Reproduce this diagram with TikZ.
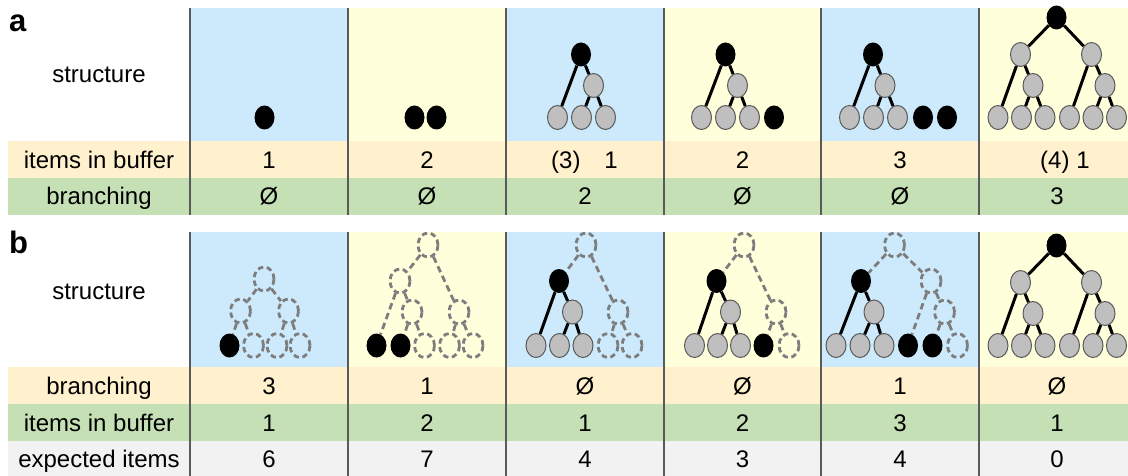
\documentclass[tikz,border=0pt]{standalone}
\usepackage{fontspec}
\setmainfont{Liberation Sans}
\usetikzlibrary{shapes.geometric}
\definecolor{cblue}{RGB}{205,234,252}
\definecolor{cyell}{RGB}{255,255,220}
\definecolor{corange}{RGB}{255,241,206}
\definecolor{cgreen}{RGB}{197,224,180}
\definecolor{cgrey}{RGB}{242,242,242}
\definecolor{sepcol}{RGB}{90,90,90}
\definecolor{ndfill}{RGB}{191,191,191}
\definecolor{ndline}{RGB}{90,90,90}
\definecolor{dshcol}{RGB}{125,125,125}
\tikzset{
  nd/.style={ellipse,inner sep=0pt,minimum width=20pt,minimum height=24pt},
  blk/.style={nd,fill=black},
  gry/.style={nd,fill=ndfill,draw=ndline,line width=1pt},
  dsh/.style={nd,draw=dshcol,line width=2.8pt,dash pattern=on 5.5pt off 3.5pt},
  sedge/.style={line width=3pt},
  dedge/.style={draw=dshcol,line width=2.8pt,dash pattern=on 6.5pt off 4pt},
  cell/.style={anchor=base,inner sep=0pt},
  panel/.style={anchor=base west,inner sep=0pt,font=\fontsize{31}{35}\selectfont\bfseries},
  sepline/.style={draw=sepcol,line width=1.3pt},
}
\begin{document}
\begin{tikzpicture}[x=1pt,y=-1pt,font=\fontsize{24}{28}\selectfont]
\useasboundingbox (0,0) rectangle (1128,476);
\def\aleaf{117.5} \def\aone{85.5} \def\atwo{54.5} \def\athree{17.5}
\def\bleaf{345.5} \def\bone{312} \def\btwo{281} \def\bthree{245}
% table
\foreach \l/\c in {190/cblue,348/cyell,506/cblue,664/cyell,821/cblue,979/cyell} {
  \fill[\c] (\l,8) rectangle +(158,133);
  \fill[\c] (\l,232) rectangle +(158,135);
}
\fill[corange] (8,141) rectangle (1128,178);
\fill[cgreen] (8,178) rectangle (1128,215);
\fill[corange] (8,367) rectangle (1128,404);
\fill[cgreen] (8,404) rectangle (1128,441);
\fill[cgrey] (8,441) rectangle (1128,476);
\foreach \x in {190,348,506,664,821,979} {
  \draw[sepline] (\x,8) -- (\x,215);
  \draw[sepline] (\x,232) -- (\x,476);
}
\node[panel] (pa) at (9,31.5) {a};
\node[panel] (pb) at (9,253) {b};
\node[cell] (astr) at (99,82.5) {structure};
\node[cell] (abufl) at (99,168) {items in buffer};
\node[cell] (abrl) at (99,204.5) {branching};
\node[cell] (bstr) at (99,299) {structure};
\node[cell] (bbrl) at (99,394) {branching};
\node[cell] (bbufl) at (99,431) {items in buffer};
\node[cell] (bexpl) at (99,467.5) {expected items};
\foreach \n/\x/\xb/\u/\w in {1/269/269/1/Ø,2/427/427/2/Ø,3/585/584.5/{(3)\hspace{24pt}1}/2,
    4/742.5/742.5/2/Ø,5/900/900/3/Ø,6/1057/1065/{(4)\hspace{7pt}1}/3} {
  \node[cell] (abuf\n) at (\xb,168) {\u};
  \node[cell] (abr\n) at (\x,204.5) {\w};
}
\foreach \n/\x/\u/\v/\w in {1/269/3/1/6,2/427/1/2/7,3/585/Ø/1/4,4/742.5/Ø/2/3,5/900/1/3/4,6/1057/Ø/1/0} {
  \node[cell] (bbr\n) at (\x,394) {\u};
  \node[cell] (bbuf\n) at (\x,431) {\v};
  \node[cell] (bexp\n) at (\x,467.5) {\w};
}
% a: structures
\node[blk] (a1l1) at (264.5,\aleaf) {};
\node[blk] (a2l1) at (414.5,\aleaf) {};
\node[blk] (a2l2) at (436.5,\aleaf) {};
\foreach \s/\x [count=\k] in {gry/557.5,gry/581.5,gry/605.5} \node[\s] (a3l\k) at (\x,\aleaf) {};
\node[gry] (a3m) at (593.5,\aone) {};
\node[blk] (a3r) at (581,\atwo) {};
\foreach \p/\q in {a3r/a3l1,a3r/a3m,a3m/a3l2,a3m/a3l3} \draw[sedge] (\p) -- (\q);
\foreach \s/\x [count=\k] in {gry/701.5,gry/725.5,gry/749.5,blk/774} \node[\s] (a4l\k) at (\x,\aleaf) {};
\node[gry] (a4m) at (737.5,\aone) {};
\node[blk] (a4r) at (725.5,\atwo) {};
\foreach \p/\q in {a4r/a4l1,a4r/a4m,a4m/a4l2,a4m/a4l3} \draw[sedge] (\p) -- (\q);
\foreach \s/\x [count=\k] in {gry/849.5,gry/873.5,gry/897.5,blk/923,blk/947} \node[\s] (a5l\k) at (\x,\aleaf) {};
\node[gry] (a5m) at (885,\aone) {};
\node[blk] (a5r) at (873,\atwo) {};
\foreach \p/\q in {a5r/a5l1,a5r/a5m,a5m/a5l2,a5m/a5l3} \draw[sedge] (\p) -- (\q);
% full tree, both panels
\foreach \pn/\yo in {a/0,b/228} {
  \foreach \x [count=\k] in {998,1021.5,1045,1069.5,1093,1116.5} \node[gry] (\pn6l\k) at (\x,117.5+\yo) {};
  \node[gry] (\pn6m) at (1033,85.5+\yo) {};
  \node[gry] (\pn6n) at (1105,85.5+\yo) {};
  \node[gry] (\pn6p) at (1020.5,54.5+\yo) {};
  \node[gry] (\pn6q) at (1091.5,54.5+\yo) {};
  \node[blk] (\pn6r) at (1056.5,17.5+\yo) {};
  \foreach \p/\q in {r/p,r/q,p/l1,p/m,m/l2,m/l3,q/l4,q/n,n/l5,n/l6} \draw[sedge] (\pn6\p) -- (\pn6\q);
}
% b: structures
\foreach \s/\x [count=\k] in {blk/229.5,dsh/253.5,dsh/277,dsh/300} \node[\s] (b1l\k) at (\x,\bleaf) {};
\node[dsh] (b1m) at (240.5,311) {};
\node[dsh] (b1n) at (288.5,311) {};
\node[dsh] (b1r) at (264,279) {};
\foreach \p/\q in {b1r/b1m,b1r/b1n,b1m/b1l1,b1m/b1l2,b1n/b1l3,b1n/b1l4} \draw[dedge] (\p) -- (\q);
\foreach \s/\x [count=\k] in {blk/376.5,blk/400.5,dsh/424.5,dsh/449.5,dsh/473} \node[\s] (b2l\k) at (\x,\bleaf) {};
\node[dsh] (b2m) at (412,\bone) {};
\node[dsh] (b2n) at (459,\bone) {};
\node[dsh] (b2p) at (400,\btwo) {};
\node[dsh] (b2r) at (428,\bthree) {};
\foreach \p/\q in {b2r/b2p,b2r/b2n,b2p/b2l1,b2p/b2m,b2m/b2l2,b2m/b2l3,b2n/b2l4,b2n/b2l5} \draw[dedge] (\p) -- (\q);
\foreach \s/\x [count=\k] in {gry/536,gry/559.5,gry/583,dsh/608,dsh/632} \node[\s] (b3l\k) at (\x,\bleaf) {};
\node[gry] (b3m) at (572.5,\bone) {};
\node[dsh] (b3n) at (618,\bone) {};
\node[blk] (b3p) at (559,\btwo) {};
\node[dsh] (b3r) at (586,\bthree) {};
\foreach \p/\q in {b3p/b3l1,b3p/b3m,b3m/b3l2,b3m/b3l3} \draw[sedge] (\p) -- (\q);
\foreach \p/\q in {b3r/b3p,b3r/b3n,b3n/b3l4,b3n/b3l5} \draw[dedge] (\p) -- (\q);
\foreach \s/\x [count=\k] in {gry/694.5,gry/717.5,gry/740.5,blk/763.5,dsh/789} \node[\s] (b4l\k) at (\x,\bleaf) {};
\node[gry] (b4m) at (730.5,\bone) {};
\node[dsh] (b4n) at (776,\bone) {};
\node[blk] (b4p) at (716.5,\btwo) {};
\node[dsh] (b4r) at (744,\bthree) {};
\foreach \p/\q in {b4p/b4l1,b4p/b4m,b4m/b4l2,b4m/b4l3} \draw[sedge] (\p) -- (\q);
\foreach \p/\q in {b4r/b4p,b4r/b4n,b4n/b4l4,b4n/b4l5} \draw[dedge] (\p) -- (\q);
\foreach \s/\x [count=\k] in {gry/836,gry/860,gry/884,blk/908,blk/932.5,dsh/957.5} \node[\s] (b5l\k) at (\x,\bleaf) {};
\node[gry] (b5m) at (874,\bone) {};
\node[dsh] (b5n) at (944.5,\bone) {};
\node[blk] (b5p) at (861,\btwo) {};
\node[dsh] (b5q) at (931,\btwo) {};
\node[dsh] (b5r) at (894.5,\bthree) {};
\foreach \p/\q in {b5p/b5l1,b5p/b5m,b5m/b5l2,b5m/b5l3} \draw[sedge] (\p) -- (\q);
\foreach \p/\q in {b5r/b5p,b5r/b5q,b5q/b5l4,b5q/b5n,b5n/b5l5,b5n/b5l6} \draw[dedge] (\p) -- (\q);
\end{tikzpicture}
\end{document}
